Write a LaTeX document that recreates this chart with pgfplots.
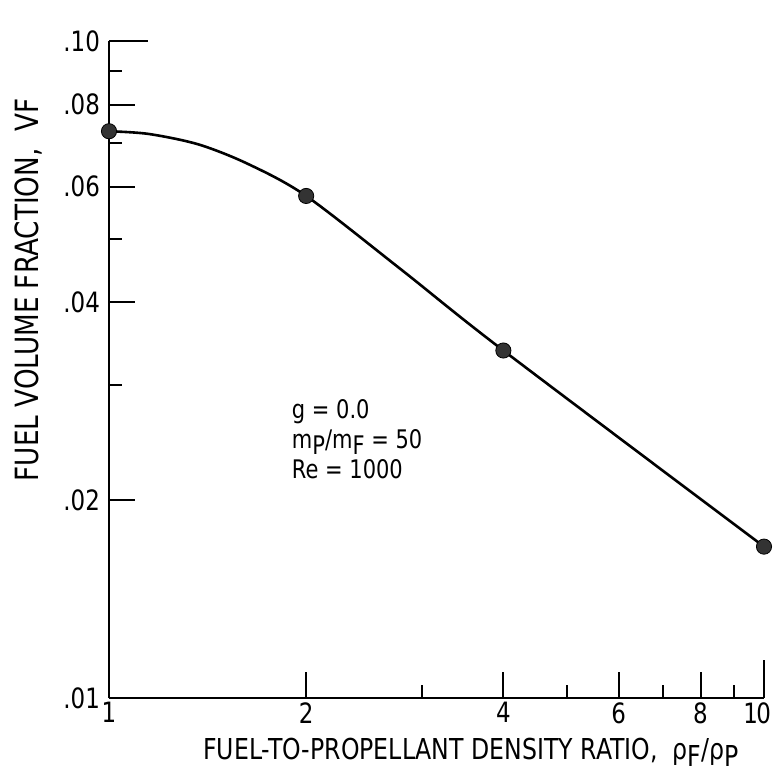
\documentclass[border=0pt]{standalone}
\usepackage{pgfplots}
\pgfplotsset{compat=1.18}
\usepackage{fontspec}
\setmainfont[FakeStretch=0.82]{DejaVu Sans}
\begin{document}
\begin{tikzpicture}
\begin{axis}[
  at={(0,0)}, anchor=south west,
  scale only axis, width=327.5pt, height=328.5pt,
  xmode=log, ymode=log,
  xmin=1, xmax=10, ymin=0.01, ymax=0.1,
  axis x line*=bottom, axis y line*=left,
  axis line style={line width=1.4pt},
  xtick={1,2,4,6,8,10}, xticklabels={1,2,4,6,8,\kern-3pt 1\kern-0.8pt 0\kern 3.8pt},
  ytick={0.01,0.02,0.04,0.06,0.08,0.1}, yticklabels={.01,.02,.04,.06,.08,.10},
  minor xtick={3,5,7,9}, minor ytick={0.03,0.05,0.07,0.09},
  extra x ticks={10}, extra x tick labels={},
  extra x tick style={major tick length=19pt},
  extra y ticks={0.1}, extra y tick labels={},
  extra y tick style={major tick length=19.5pt},
  tick align=inside,
  major tick length=13pt, minor tick length=6.5pt,
  every tick/.style={black, line width=1pt},
  tick label style={font=\fontsize{14}{15}\selectfont},
  xticklabel style={yshift=-1pt, inner ysep=1pt},
  yticklabel style={xshift=-1pt},
  clip=false,
]
\addplot[black, line width=1.3pt, smooth] coordinates {
 (1,0.0729) (1.15,0.0722) (1.37,0.0696) (1.63,0.0650) (2,0.0581) (2.8,0.0448) (4,0.0338) (10,0.0170)
};
\addplot[only marks, mark=*, mark size=3.8pt, mark options={fill=black!80, draw=black}] coordinates {
 (1,0.0729) (2,0.0581) (4,0.0338) (10,0.0170)
};
\node[anchor=north west, align=left, font=\fontsize{12.8}{15}\selectfont, inner sep=0pt] at (axis cs:1.9,0.0285)
 {g = 0.0\\m\raisebox{-0.45ex}{P}/m\raisebox{-0.45ex}{F} = 50\\Re = 1000};
\end{axis}
\node[rotate=90, font=\fontsize{16}{18}\selectfont] at (-40.5pt,204pt) {FUEL VOLUME FRACTION,\ \ VF};
\node[font=\fontsize{14.4}{16}\selectfont, inner sep=1pt] at (181pt,-27pt) {FUEL-TO-PROPELLANT DENSITY RATIO,\ \ ρ\raisebox{-0.45ex}{F}/ρ\raisebox{-0.45ex}{P}};
\pgfresetboundingbox
\path (-54.5pt,-38pt) rectangle (331.5pt,349pt);
\end{tikzpicture}
\end{document}
